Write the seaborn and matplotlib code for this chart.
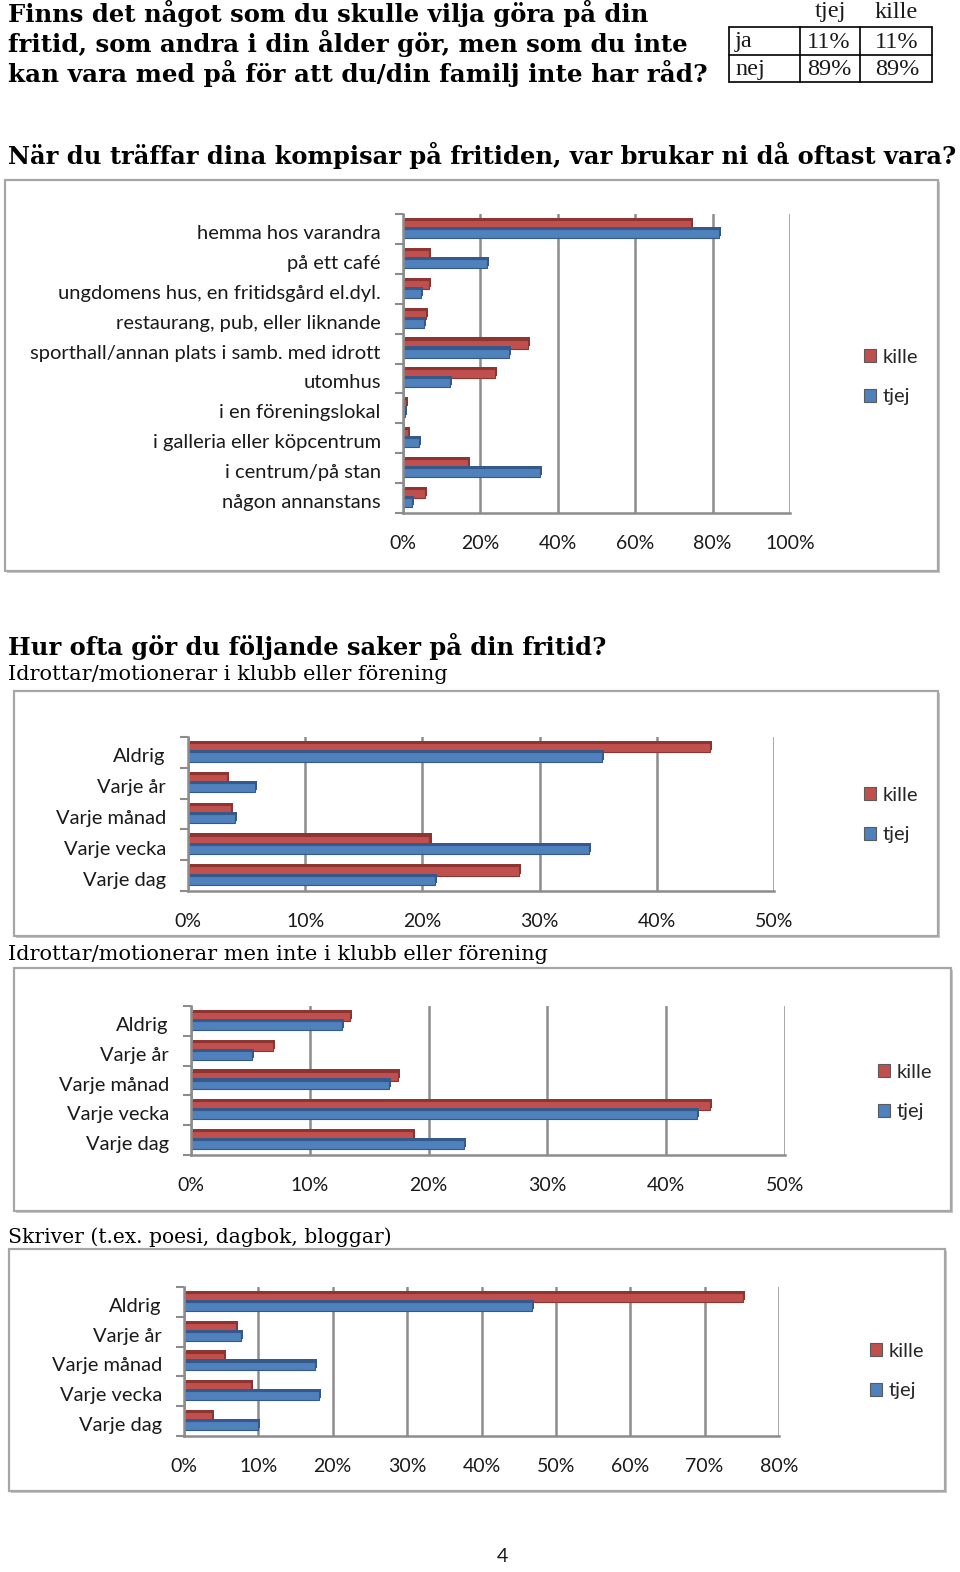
import numpy as np
import pandas as pd
import seaborn as sns
import matplotlib
matplotlib.use("Agg")
import matplotlib.pyplot as plt
import matplotlib.patheffects as pe
from matplotlib.patches import Rectangle
from matplotlib.lines import Line2D
from matplotlib.ticker import PercentFormatter
from matplotlib.transforms import ScaledTranslation

# ---- data ----
table_cols = ["tjej", "kille"]
table_rows = ["ja", "nej"]
table_tjej = ["11%", "89%"]
table_kille = ["11%", "89%"]

places = ["hemma hos varandra", "på ett café", "ungdomens hus, en fritidsgård el.dyl.",
          "restaurang, pub, eller liknande", "sporthall/annan plats i samb. med idrott",
          "utomhus", "i en föreningslokal", "i galleria eller köpcentrum",
          "i centrum/på stan", "någon annanstans"]
places_kille = [74.4, 6.7, 6.7, 5.9, 32.3, 23.7, 0.7, 1.3, 16.9, 5.6]
places_tjej = [81.6, 21.8, 4.6, 5.3, 27.4, 12.2, 0.5, 4.1, 35.5, 2.4]

freq = ["Aldrig", "Varje år", "Varje månad", "Varje vecka", "Varje dag"]
klubb_kille = [44.5, 3.3, 3.7, 20.6, 28.2]
klubb_tjej = [35.3, 5.7, 4.0, 34.2, 21.1]
motion_kille = [13.4, 6.9, 17.4, 43.7, 18.7]
motion_tjej = [12.7, 5.1, 16.7, 42.6, 23.0]
skriver_kille = [75.2, 7.0, 5.4, 9.0, 3.7]
skriver_tjej = [46.8, 7.6, 17.6, 18.2, 10.0]

W, H = 960, 1572
RED, BLUE = "#C0504D", "#4F81BD"
RED_D, BLUE_D = "#8E3431", "#34598A"
SANS = "Lato"
SERIF = "DejaVu Serif"

sns.set_theme(style="white")
plt.rcParams["font.family"] = [SANS, "DejaVu Sans"]

fig = plt.figure(figsize=(W / 100, H / 100), dpi=100)
fig.patch.set_facecolor("white")


def fx(x):
    return x / W


def fy(y):
    return 1 - y / H


def fit_text(x0, x1, y, s, **kw):
    # place text and scale font so it spans x0..x1 pixels
    t = fig.text(fx(x0), fy(y), s, va="center", ha="left", **kw)
    w = t.get_window_extent(renderer=fig.canvas.get_renderer()).width
    t.set_fontsize(t.get_fontsize() * (x1 - x0) / w)
    return t


def frame(x0, y0, x1, y1):
    r = Rectangle((fx(x0), fy(y1)), fx(x1 - x0), (y1 - y0) / H, transform=fig.transFigure,
                  facecolor="white", edgecolor="#A6A6A6", lw=1.6, zorder=0)
    r.set_path_effects([pe.SimplePatchShadow(offset=(1.5, -1.5), shadow_rgbFace="#BBBBBB", alpha=0.8),
                        pe.Normal()])
    fig.add_artist(r)


def chart(plot, cats, kille, tjej, xmax, step, legend_xy):
    left, top, right, bottom = plot
    ax = fig.add_axes([fx(left), fy(bottom), fx(right - left), (bottom - top) / H])
    df = pd.DataFrame({
        "kat": cats * 2,
        "kön": ["kille"] * len(cats) + ["tjej"] * len(cats),
        "andel": [v / 100 for v in kille + tjej],
    })
    sns.barplot(data=df, y="kat", x="andel", hue="kön", hue_order=["kille", "tjej"],
                palette={"kille": RED, "tjej": BLUE}, width=0.6, orient="h", ax=ax,
                linewidth=0.8, edgecolor="#5A5A5A", saturation=1)
    for p in ax.patches:
        if p.get_width() <= 0:
            continue
        dark = RED_D if np.allclose(p.get_facecolor()[:3], matplotlib.colors.to_rgb(RED)) else BLUE_D
        p.set_edgecolor(dark)
        p.set_path_effects([pe.SimplePatchShadow(offset=(1.5, 1.5), shadow_rgbFace=dark, alpha=1),
                            pe.Normal()])
    ax.set_xlim(0, xmax)
    ax.set_xticks(np.arange(0, xmax + 1e-9, step))
    ax.xaxis.set_major_formatter(PercentFormatter(1, decimals=0))
    ax.xaxis.grid(True, color="#8C8C8C", lw=1.8)
    ax.set_axisbelow(True)
    ax.set_xlabel("")
    ax.set_ylabel("")
    for s in ["top", "right"]:
        ax.spines[s].set_visible(False)
    ax.spines["left"].set_color("#8C8C8C")
    ax.spines["left"].set_linewidth(1.8)
    ax.spines["bottom"].set_color("#8C8C8C")
    ax.spines["bottom"].set_linewidth(1.8)
    ax.set_yticks(np.arange(-0.5, len(cats), 1.0), minor=True)
    ax.tick_params(axis="y", which="minor", left=True, length=6, width=1.5, color="#8C8C8C")
    ax.tick_params(axis="y", which="major", length=0, pad=16, labelsize=14.5, labelcolor="#1A1A1A")
    ax.tick_params(axis="x", length=0, pad=16, labelsize=14, labelcolor="#1A1A1A")
    # labels sit a touch below the bars, as on the 3-D original
    shift = ScaledTranslation(0, -3 / 100, fig.dpi_scale_trans)
    for lab in ax.get_yticklabels():
        lab.set_transform(lab.get_transform() + shift)
    h, l = ax.get_legend_handles_labels()
    ax.legend(h, l, loc="center left", bbox_to_anchor=legend_xy, bbox_transform=fig.transFigure,
              frameon=False, fontsize=14.5, handlelength=0.6, handleheight=0.6,
              handletextpad=0.3, labelspacing=1.12, borderaxespad=0)
    return ax


# ---- top question and table ----
q_lines = ["Finns det något som du skulle vilja göra på din",
           "fritid, som andra i din ålder gör, men som du inte",
           "kan vara med på för att du/din familj inte har råd?"]
q_right = [648, 685, 705]
for i, line in enumerate(q_lines):
    fit_text(8, q_right[i], 13 + 30 * i, line, family=SERIF, fontweight="bold", fontsize=16, color="black")

tab_x = [729, 800, 860, 932]
tab_y = [27, 55, 82]
for y in tab_y:
    fig.add_artist(Line2D([fx(tab_x[0]), fx(tab_x[-1])], [fy(y), fy(y)], color="black", lw=1.2,
                          transform=fig.transFigure))
for x in tab_x:
    fig.add_artist(Line2D([fx(x), fx(x)], [fy(tab_y[0]), fy(tab_y[-1])], color="black", lw=1.2,
                          transform=fig.transFigure))
tab_font = dict(family="Liberation Serif", fontsize=17.5, color="#1A1A1A", va="center")
for j, c in enumerate(table_cols):
    fig.text(fx((tab_x[j + 1] + tab_x[j + 2]) / 2), fy(12), c, ha="center", **tab_font)
for i, r in enumerate(table_rows):
    yc = (tab_y[i] + tab_y[i + 1]) / 2 + 1
    fig.text(fx(735), fy(yc), r, ha="left", **tab_font)
    fig.text(fx((tab_x[1] + tab_x[2]) / 2 - 1), fy(yc), table_tjej[i], ha="center", **tab_font)
    fig.text(fx((tab_x[2] + tab_x[3]) / 2 + 1), fy(yc), table_kille[i], ha="center", **tab_font)

# ---- chart 1 ----
fit_text(8, 955, 155, "När du träffar dina kompisar på fritiden, var brukar ni då oftast vara?",
         family=SERIF, fontweight="bold", fontsize=16, color="black")
frame(5, 180, 938, 571)
chart((403, 214, 790, 513), places, places_kille, places_tjej, 1.0, 0.2, (fx(856), fy(377)))

# ---- frequency charts ----
fit_text(8, 604, 646, "Hur ofta gör du följande saker på din fritid?",
         family=SERIF, fontweight="bold", fontsize=16, color="black")
fit_text(8, 449, 674, "Idrottar/motionerar i klubb eller förening", family=SERIF, fontsize=14, color="black")
frame(14, 691, 938, 936)
chart((188, 737, 774, 891), freq, klubb_kille, klubb_tjej, 0.5, 0.1, (fx(856), fy(815)))

fit_text(8, 549, 955, "Idrottar/motionerar men inte i klubb eller förening", family=SERIF, fontsize=14,
         color="black")
frame(14, 968, 951, 1211)
chart((191, 1006, 785, 1155), freq, motion_kille, motion_tjej, 0.5, 0.1, (fx(870), fy(1092)))

fit_text(8, 393, 1237, "Skriver (t.ex. poesi, dagbok, bloggar)", family=SERIF, fontsize=14, color="black")
frame(9, 1249, 945, 1491)
chart((184, 1287, 779, 1436), freq, skriver_kille, skriver_tjej, 0.8, 0.1, (fx(862), fy(1371)))

fig.text(fx(502), fy(1556), "4", ha="center", va="center", fontsize=14, color="#1A1A1A")

fig.savefig("out.png", dpi=100, facecolor="white")
